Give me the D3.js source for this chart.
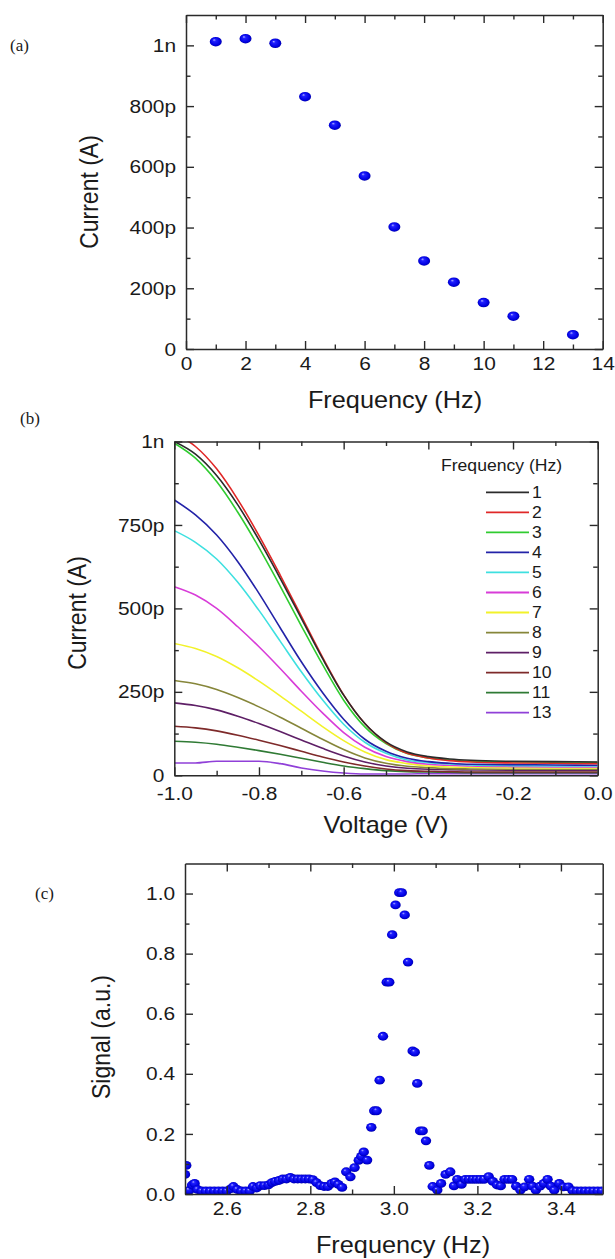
<!DOCTYPE html>
<html>
<head>
<meta charset="utf-8">
<script src="https://cdn.jsdelivr.net/npm/d3@7"></script>
<style>
  body { margin: 0; background: #fff; }
  svg { display: block; }
  text { font-family: "Liberation Sans", Arial, sans-serif; fill: #1a1a1a; }
  .domain { stroke: #2a2a2a; stroke-width: 1.5; }
  .tick line { stroke: #2a2a2a; stroke-width: 1.4; }
</style>
</head>
<body>
<svg id="fig" width="615" height="1259"></svg>
<script>
// ---------- (a) peak current vs. drive frequency ----------
const freqA = [1, 2, 3, 4, 5, 6, 7, 8, 9, 10, 11, 13];
const currentA = [1012, 1022, 1007, 831, 737, 570, 402, 290, 220, 153, 108, 47]; // pA
const xTicksA = [0, 2, 4, 6, 8, 10, 12, 14];
const yTicksA = [0, 200, 400, 600, 800, 1000];

// ---------- (b) current vs. voltage, one trace per frequency ----------
const voltageB = [-1.0, -0.95, -0.9, -0.85, -0.8, -0.75, -0.7, -0.65, -0.6, -0.55, -0.5, -0.45, -0.4, -0.35, -0.3, -0.2, -0.1, 0.0];
const legendB = ["1", "2", "3", "4", "5", "6", "7", "8", "9", "10", "11", "13"];
const colorsB = ["#2b2b2b", "#e02828", "#30cc30", "#2323a8", "#3ee0e0", "#d83cd8", "#f2f22a", "#86863a", "#5e1f66", "#7e2a2a", "#2f7a34", "#9040d8"];
const trace1 = [1000, 962, 898, 810, 705, 590, 470, 350, 240, 155, 100, 70, 56, 49, 45, 42, 41, 40];
const trace2 = [1025, 985, 918, 826, 718, 600, 477, 354, 241, 155, 98, 66, 52, 44, 40, 37, 36, 35];
const trace3 = [995, 950, 880, 788, 682, 567, 448, 332, 225, 145, 95, 65, 52, 46, 42, 40, 39, 38];
const trace4 = [825, 780, 720, 640, 545, 442, 340, 248, 168, 108, 72, 51, 41, 36, 33, 32, 31, 30];
const trace5 = [733, 698, 648, 578, 494, 402, 310, 226, 153, 99, 66, 46, 38, 34, 31, 29, 28, 28];
const trace6 = [565, 540, 500, 445, 385, 320, 252, 187, 128, 84, 56, 41, 33, 30, 28, 26, 25, 25];
const trace7 = [395, 380, 356, 322, 282, 238, 192, 146, 104, 70, 47, 35, 28, 25, 24, 23, 22, 22];
const trace8 = [284, 274, 257, 233, 205, 174, 141, 108, 77, 52, 36, 27, 23, 20, 19, 18, 18, 18];
const trace9 = [217, 209, 196, 177, 155, 131, 106, 81, 58, 40, 28, 21, 18, 17, 16, 15, 15, 15];
const trace10 = [147, 142, 133, 120, 105, 89, 72, 55, 40, 28, 19, 14, 12, 11, 10, 10, 10, 10];
const trace11 = [102, 99, 93, 84, 74, 63, 51, 39, 28, 20, 14, 11, 10, 9, 8, 8, 8, 8];
const trace13 = [37, 37, 42, 42, 42, 35, 22, 13, 7, 4, 4, 4, 5, 5, 5, 5, 5, 5];
const tracesB = [trace1, trace2, trace3, trace4, trace5, trace6, trace7, trace8, trace9, trace10, trace11, trace13];
const xTicksB = [-1.0, -0.8, -0.6, -0.4, -0.2, 0.0];
const yTicksB = [0, 250, 500, 750, 1000];

// ---------- (c) resonance scan ----------
const freqC = [2.500, 2.503, 2.510, 2.517, 2.523, 2.530, 2.540, 2.550, 2.560, 2.570, 2.580, 2.590, 2.600, 2.610, 2.616, 2.625, 2.635, 2.645, 2.655, 2.663, 2.672, 2.680, 2.690, 2.700, 2.708, 2.716, 2.725, 2.734, 2.743, 2.752, 2.761, 2.770, 2.779, 2.788, 2.797, 2.806, 2.815, 2.824, 2.833, 2.842, 2.851, 2.859, 2.867, 2.876, 2.886, 2.896, 2.906, 2.916, 2.922, 2.928, 2.936, 2.946, 2.953, 2.959, 2.966, 2.974, 2.983, 2.989, 2.996, 3.004, 3.013, 3.019, 3.026, 3.034, 3.045, 3.050, 3.056, 3.063, 3.069, 3.077, 3.085, 3.093, 3.104, 3.113, 3.124, 3.135, 3.144, 3.152, 3.162, 3.171, 3.180, 3.189, 3.198, 3.207, 3.216, 3.227, 3.237, 3.247, 3.256, 3.265, 3.274, 3.283, 3.293, 3.303, 3.313, 3.324, 3.332, 3.340, 3.350, 3.359, 3.368, 3.376, 3.384, 3.396, 3.406, 3.418, 3.428, 3.438, 3.448, 3.458, 3.468, 3.478, 3.488, 3.498];
const signalC = [0.065, 0.095, 0.012, 0.030, 0.035, 0.015, 0.010, 0.010, 0.010, 0.010, 0.010, 0.010, 0.010, 0.018, 0.025, 0.015, 0.010, 0.010, 0.010, 0.025, 0.020, 0.028, 0.028, 0.030, 0.038, 0.042, 0.045, 0.050, 0.050, 0.055, 0.050, 0.050, 0.050, 0.050, 0.050, 0.048, 0.038, 0.028, 0.025, 0.025, 0.035, 0.040, 0.032, 0.022, 0.074, 0.057, 0.088, 0.112, 0.125, 0.140, 0.113, 0.222, 0.277, 0.277, 0.379, 0.525, 0.705, 0.705, 0.863, 0.962, 1.003, 1.003, 0.929, 0.772, 0.476, 0.472, 0.368, 0.210, 0.210, 0.177, 0.095, 0.025, 0.013, 0.035, 0.065, 0.074, 0.027, 0.049, 0.032, 0.049, 0.049, 0.049, 0.049, 0.049, 0.049, 0.058, 0.042, 0.030, 0.027, 0.049, 0.049, 0.049, 0.026, 0.013, 0.024, 0.049, 0.026, 0.013, 0.026, 0.035, 0.049, 0.026, 0.013, 0.035, 0.024, 0.024, 0.011, 0.010, 0.010, 0.010, 0.010, 0.010, 0.010, 0.010];
const xTicksC = [2.6, 2.8, 3.0, 3.2, 3.4];
const yTicksC = [0.0, 0.2, 0.4, 0.6, 0.8, 1.0];

// ---------- drawing ----------
const SX = 1.1; // horizontal text stretch
const svg = d3.select("#fig");

const defs = svg.append("defs");
const grad = defs.append("radialGradient").attr("id", "ball")
  .attr("cx", "50%").attr("cy", "50%").attr("r", "55%")
  .attr("fx", "35%").attr("fy", "30%");
grad.append("stop").attr("offset", "0%").attr("stop-color", "#b8b8ff");
grad.append("stop").attr("offset", "25%").attr("stop-color", "#2020ff");
grad.append("stop").attr("offset", "75%").attr("stop-color", "#0000e0");
grad.append("stop").attr("offset", "100%").attr("stop-color", "#00009a");

const pFmt = v => v === 0 ? "0" : (v >= 1000 ? (v / 1000) + "n" : v + "p");

function drawFrame(g, x, y, o) {
  const [xl, xr] = x.range();
  const [yb, yt] = y.range();
  // bottom axis with labels
  const bx = g.append("g").attr("transform", `translate(0,${yb})`)
    .call(d3.axisBottom(x).tickValues(o.xMajor).tickSize(-8).tickSizeOuter(0).tickPadding(o.xPad).tickFormat(o.xFmt));
  bx.selectAll(".tick text").attr("font-size", 19).attr("transform", `scale(${SX},1)`);
  g.append("g").attr("transform", `translate(0,${yb})`)
    .call(d3.axisBottom(x).tickValues(o.xMinor).tickSize(-4.5).tickSizeOuter(0).tickFormat(""))
    .select(".domain").remove();
  // top axis
  g.append("g").attr("transform", `translate(0,${yt})`)
    .call(d3.axisTop(x).tickValues(o.xMajor).tickSize(-8).tickSizeOuter(0).tickFormat(""));
  g.append("g").attr("transform", `translate(0,${yt})`)
    .call(d3.axisTop(x).tickValues(o.xMinor).tickSize(-4.5).tickSizeOuter(0).tickFormat(""))
    .select(".domain").remove();
  // left axis with labels
  const ly = g.append("g").attr("transform", `translate(${xl},0)`)
    .call(d3.axisLeft(y).tickValues(o.yMajor).tickSize(-8).tickSizeOuter(0).tickPadding(9).tickFormat(o.yFmt));
  ly.selectAll(".tick text").attr("font-size", 19).attr("transform", `scale(${SX},1)`);
  g.append("g").attr("transform", `translate(${xl},0)`)
    .call(d3.axisLeft(y).tickValues(o.yMinor).tickSize(-4.5).tickSizeOuter(0).tickFormat(""))
    .select(".domain").remove();
  // right axis
  g.append("g").attr("transform", `translate(${xr},0)`)
    .call(d3.axisRight(y).tickValues(o.yMajor).tickSize(-8).tickSizeOuter(0).tickFormat(""));
  g.append("g").attr("transform", `translate(${xr},0)`)
    .call(d3.axisRight(y).tickValues(o.yMinor).tickSize(-4.5).tickSizeOuter(0).tickFormat(""))
    .select(".domain").remove();
  g.selectAll(".tick text").attr("fill", "#1a1a1a");

  // axis titles
  g.append("text")
    .attr("transform", `translate(${o.xTitlePos[0]},${o.xTitlePos[1]}) scale(${SX},1)`)
    .attr("text-anchor", "middle").attr("font-size", 23).text(o.xTitle);
  g.append("text")
    .attr("transform", `translate(${o.yTitlePos[0]},${o.yTitlePos[1]}) rotate(-90) scale(1,${SX})`)
    .attr("text-anchor", "middle").attr("dy", "0.35em").attr("font-size", 23).text(o.yTitle);
  // panel tag
  g.append("text").attr("x", o.tag[0]).attr("y", o.tag[1])
    .style("font-family", "'Liberation Serif', 'Times New Roman', serif")
    .attr("font-size", 17).text(o.tag[2]);
}

function clipFor(id, x, y) {
  const [xl, xr] = x.range();
  const [yb, yt] = y.range();
  defs.append("clipPath").attr("id", id).append("rect")
    .attr("x", xl).attr("y", yt).attr("width", xr - xl).attr("height", yb - yt);
  return `url(#${id})`;
}

// ----- panel (a) -----
{
  const x = d3.scaleLinear().domain([0, 14]).range([186, 602.7]);
  const y = d3.scaleLinear().domain([0, 1100]).range([349, 15]);
  const g = svg.append("g");
  const clip = clipFor("clipA", x, y);
  g.append("g").attr("clip-path", clip).selectAll("ellipse")
    .data(freqA.map((f, i) => [f, currentA[i]]))
    .join("ellipse")
    .attr("cx", d => x(d[0])).attr("cy", d => y(d[1]))
    .attr("rx", 6).attr("ry", 4.8).attr("fill", "url(#ball)");
  drawFrame(g, x, y, {
    xMajor: xTicksA, xMinor: [1, 3, 5, 7, 9, 11, 13], xFmt: d3.format("d"), xPad: 8,
    yMajor: yTicksA, yMinor: [100, 300, 500, 700, 900], yFmt: pFmt,
    xTitle: "Frequency (Hz)", xTitlePos: [395, 408],
    yTitle: "Current (A)", yTitlePos: [89, 192],
    tag: [10, 51, "(a)"]
  });
}

// ----- panel (b) -----
{
  const x = d3.scaleLinear().domain([-1, 0]).range([174.3, 597.7]);
  const y = d3.scaleLinear().domain([0, 1000]).range([775.3, 441.5]);
  const g = svg.append("g");
  const clip = clipFor("clipB", x, y);
  const line = d3.line().x(d => x(d[0])).y(d => y(d[1])).curve(d3.curveMonotoneX);
  const series = tracesB.map((t, i) => ({ name: legendB[i], color: colorsB[i], pts: voltageB.map((v, j) => [v, t[j]]) }));
  g.append("g").attr("clip-path", clip).selectAll("path")
    .data(series.slice().reverse())
    .join("path")
    .attr("d", d => line(d.pts))
    .attr("fill", "none").attr("stroke", d => d.color).attr("stroke-width", 1.6);
  drawFrame(g, x, y, {
    xMajor: xTicksB, xMinor: [-0.9, -0.7, -0.5, -0.3, -0.1], xFmt: d => d.toFixed(1).replace("-0.0", "0.0"), xPad: 11,
    yMajor: yTicksB, yMinor: [125, 375, 625, 875], yFmt: pFmt,
    xTitle: "Voltage (V)", xTitlePos: [386, 833],
    yTitle: "Current (A)", yTitlePos: [77, 613],
    tag: [20, 424, "(b)"]
  });
  // legend
  const lg = g.append("g");
  lg.append("text").attr("transform", `translate(441,471) scale(${SX},1)`)
    .attr("font-size", 16).text("Frequency (Hz)");
  const rowY = d3.scaleLinear().domain([0, 11]).range([492.3, 712.7]);
  const rows = lg.selectAll("g.row").data(series).join("g").attr("class", "row")
    .attr("transform", (d, i) => `translate(0,${rowY(i)})`);
  rows.append("line").attr("x1", 486).attr("x2", 529).attr("y1", 0).attr("y2", 0)
    .attr("stroke", d => d.color).attr("stroke-width", 1.8);
  rows.append("text").attr("transform", `translate(532,0) scale(${SX},1)`)
    .attr("dy", "0.35em").attr("font-size", 16).text(d => d.name);
}

// ----- panel (c) -----
{
  const x = d3.scaleLinear().domain([2.5, 3.5]).range([185, 602.7]);
  const y = d3.scaleLinear().domain([0, 1.1]).range([1194, 863.5]);
  const g = svg.append("g");
  const clip = clipFor("clipC", x, y);
  g.append("g").attr("clip-path", clip).selectAll("ellipse")
    .data(freqC.map((f, i) => [f, signalC[i]]))
    .join("ellipse")
    .attr("cx", d => x(d[0])).attr("cy", d => y(d[1]))
    .attr("rx", 5.2).attr("ry", 4.4).attr("fill", "url(#ball)");
  drawFrame(g, x, y, {
    xMajor: xTicksC, xMinor: [2.7, 2.9, 3.1, 3.3], xFmt: d3.format(".1f"), xPad: 8,
    yMajor: yTicksC, yMinor: [0.1, 0.3, 0.5, 0.7, 0.9], yFmt: d3.format(".1f"),
    xTitle: "Frequency (Hz)", xTitlePos: [403, 1253],
    yTitle: "Signal (a.u.)", yTitlePos: [101, 1037],
    tag: [35, 899, "(c)"]
  });
}
</script>
</body>
</html>
